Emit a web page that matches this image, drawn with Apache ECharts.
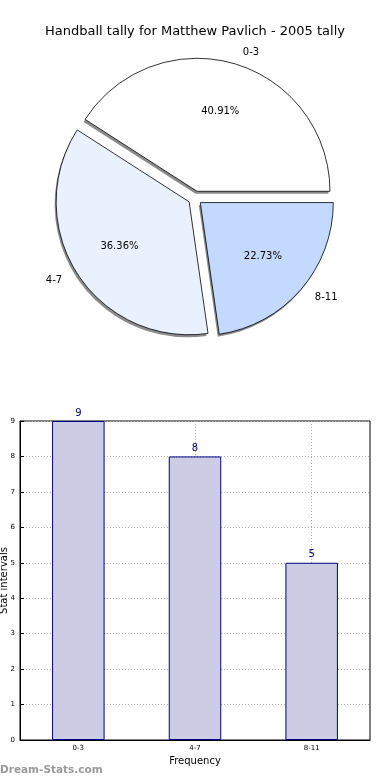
<!DOCTYPE html>
<html><head><meta charset="utf-8">
<script src="https://cdn.jsdelivr.net/npm/echarts@6/dist/echarts.min.js"></script>
<style>html,body{margin:0;padding:0;background:#fff}#c{width:390px;height:780px}</style>
</head><body><div id="c"></div>
<script>
const titleText = "Handball tally for Matthew Pavlich - 2005 tally";
const categories = ["0-3", "4-7", "8-11"];
const counts = [9, 8, 5];
const percentLabels = ["40.91%", "36.36%", "22.73%"];
const pieColors = ["#ffffff", "#eaf1fe", "#c4d9fe"];
const yTicks = [0, 1, 2, 3, 4, 5, 6, 7, 8, 9];

const font = "DejaVu Sans";
const chart = echarts.init(document.getElementById('c'), null, {renderer: 'canvas'});

const pieCenter = [195, 198];
const pieR = 133;
const pieData = categories.map((c, i) => ({
  name: c, value: counts[i], selected: true,
  itemStyle: {color: pieColors[i]}
}));
const shadowData = categories.map((c, i) => ({name: c, value: counts[i], selected: true}));
const pctData = categories.map((c, i) => ({
  name: c, value: counts[i], selected: true,
  label: {formatter: percentLabels[i]}
}));

const pieCommon = {
  type: 'pie', startAngle: 0, clockwise: false,
  selectedMode: 'multiple', selectedOffset: 7,
  emphasis: {disabled: true}, silent: true
};

chart.setOption({
  animation: false,
  title: {text: titleText, left: 'center', top: 20,
    textStyle: {fontFamily: font, fontSize: 13, fontWeight: 'normal', color: '#000'}},
  graphic: [{type: 'text', left: 0, top: 765,
    style: {text: 'Dream-Stats.com', fill: '#9a9a9a', font: 'bold 10.5px "DejaVu Sans"'}}],
  grid: {left: 20, right: 20, top: 421, bottom: 40, containLabel: false, outerBoundsMode: 'none',
    show: true, borderColor: '#000', borderWidth: 1},
  xAxis: [{
    type: 'category', data: categories, boundaryGap: true,
    name: 'Frequency', nameLocation: 'middle', nameGap: 16, nameMoveOverlap: false,
    nameTextStyle: {fontFamily: font, fontSize: 10, color: '#000'},
    axisLine: {lineStyle: {color: '#000'}},
    axisTick: {alignWithLabel: true, inside: true, length: 4, lineStyle: {color: '#000'}},
    axisLabel: {fontFamily: font, fontSize: 7, color: '#000', margin: 5},
    splitLine: {show: true, alignWithLabel: true, lineStyle: {color: '#b0b0b0', type: [1, 2]}}
  }],
  yAxis: [{
    type: 'value', min: 0, max: 9, interval: 1,
    name: 'Stat intervals', nameLocation: 'middle', nameGap: 11, nameMoveOverlap: false,
    nameTextStyle: {fontFamily: font, fontSize: 10, color: '#000'},
    axisLine: {show: true, lineStyle: {color: '#000'}},
    axisTick: {show: true, inside: true, length: 4, lineStyle: {color: '#000'}},
    axisLabel: {fontFamily: font, fontSize: 7, color: '#000', margin: 5,
      formatter: v => yTicks.includes(v) ? String(v) : ''},
    splitLine: {show: true, lineStyle: {color: '#b0b0b0', type: [1, 2]}}
  }],
  series: [
    Object.assign({}, pieCommon, {
      center: [pieCenter[0] - 1.5, pieCenter[1] + 2.5], radius: pieR, z: 1,
      data: shadowData,
      itemStyle: {color: '#8c8c8c', borderWidth: 0},
      label: {show: false}, labelLine: {show: false}
    }),
    Object.assign({}, pieCommon, {
      center: pieCenter, radius: pieR, z: 2,
      data: pieData,
      itemStyle: {borderColor: '#000', borderWidth: 0.8},
      label: {show: true, position: 'outside', fontFamily: font, fontSize: 10, color: '#000'},
      labelLine: {show: false, length: 12, length2: 0}
    }),
    Object.assign({}, pieCommon, {
      center: pieCenter, radius: pieR * 1.2, z: 3,
      data: pctData,
      itemStyle: {color: 'rgba(0,0,0,0)', borderWidth: 0},
      label: {show: true, position: 'inside', fontFamily: font, fontSize: 10, color: '#000'},
      labelLine: {show: false}
    }),
    {
      type: 'bar', data: counts, barWidth: '45%',
      itemStyle: {color: '#ccccE4', borderColor: '#000080', borderWidth: 1},
      label: {show: true, position: 'top', distance: 3, fontFamily: font, fontSize: 10, color: '#000080'},
      emphasis: {disabled: true}
    }
  ]
});
</script></body></html>
